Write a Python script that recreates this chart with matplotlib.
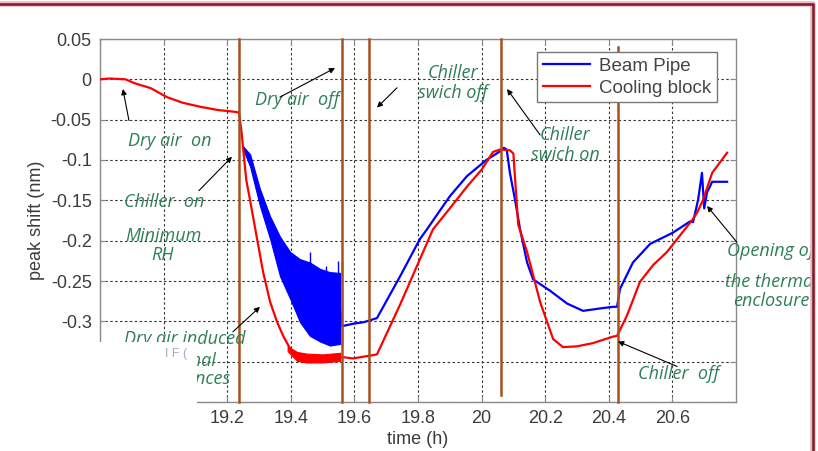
import numpy as np
import matplotlib.pyplot as plt
from matplotlib.lines import Line2D
from matplotlib.patches import Rectangle

plt.rcParams['font.family'] = ['Liberation Sans', 'DejaVu Sans']

#--- data (time in h, peak shift in nm)
red_t = [18.80, 18.83, 18.88, 18.91, 18.96, 19.01, 19.06, 19.115, 19.17, 19.218,
         19.237, 19.245, 19.26, 19.272, 19.294, 19.313, 19.335, 19.357, 19.376, 19.398,
         19.429, 19.49, 19.555, 19.596, 19.671, 19.744, 19.806, 19.847, 19.90, 19.954,
         20.00, 20.036, 20.058, 20.089, 20.10, 20.115, 20.143, 20.184, 20.225, 20.256,
         20.30, 20.35, 20.413, 20.426, 20.457, 20.498, 20.54, 20.583, 20.615, 20.665,
         20.678, 20.697, 20.725, 20.772]
red_v = [0.0, 0.001, 0.0, -0.005, -0.011, -0.022, -0.029, -0.034, -0.038, -0.040,
         -0.041, -0.065, -0.125, -0.150, -0.198, -0.239, -0.276, -0.301, -0.318, -0.334,
         -0.343, -0.346, -0.344, -0.346, -0.341, -0.279, -0.223, -0.186, -0.160, -0.133,
         -0.112, -0.090, -0.087, -0.088, -0.092, -0.180, -0.214, -0.276, -0.322, -0.332,
         -0.331, -0.327, -0.319, -0.318, -0.293, -0.251, -0.230, -0.214, -0.198, -0.173,
         -0.165, -0.149, -0.116, -0.091]

# noisy bottom of the cooling block curve
red_band_t = [19.39, 19.42, 19.45, 19.50, 19.555]
red_band_lo = [-0.337, -0.349, -0.351, -0.351, -0.349]
red_band_hi = [-0.331, -0.338, -0.340, -0.341, -0.339]

blue_t = [19.25, 19.272, 19.303, 19.335, 19.366, 19.398, 19.429, 19.46, 19.492, 19.523,
          19.555, 19.561, 19.596, 19.63, 19.671, 19.744, 19.806, 19.828, 19.90, 19.954,
          20.015, 20.055, 20.07, 20.079, 20.089, 20.105, 20.121, 20.143, 20.162, 20.215,
          20.269, 20.319, 20.373, 20.413, 20.426, 20.435, 20.476, 20.53, 20.602, 20.656,
          20.665, 20.681, 20.693, 20.70, 20.709, 20.718, 20.725, 20.772]
blue_v = [-0.085, -0.100, -0.146, -0.184, -0.220, -0.243, -0.262, -0.272, -0.280, -0.284,
          -0.284, -0.306, -0.303, -0.301, -0.296, -0.244, -0.198, -0.186, -0.145, -0.120,
          -0.100, -0.090, -0.085, -0.087, -0.116, -0.149, -0.186, -0.227, -0.248, -0.262,
          -0.278, -0.287, -0.284, -0.282, -0.282, -0.260, -0.227, -0.204, -0.190, -0.176,
          -0.177, -0.149, -0.116, -0.160, -0.140, -0.133, -0.127, -0.127]

# envelope of the noisy beam pipe signal
blue_band_t = [19.25, 19.272, 19.303, 19.335, 19.366, 19.398, 19.429, 19.46, 19.492, 19.523, 19.555]
blue_band_hi = [-0.083, -0.093, -0.136, -0.170, -0.195, -0.214, -0.223, -0.227, -0.235, -0.239, -0.240]
blue_band_lo = [-0.087, -0.108, -0.157, -0.198, -0.244, -0.272, -0.301, -0.318, -0.325, -0.330, -0.328]
spike_t = [19.39, 19.46, 19.51, 19.549, 19.561]
spike_top = [-0.213, -0.214, -0.232, -0.225, -0.225]
spike_bot = [-0.260, -0.300, -0.310, -0.320, -0.330]

event_t = [19.238, 19.562, 19.647, 20.06, 20.428]

xtick_vals = [18.8, 19.0, 19.2, 19.4, 19.6, 19.8, 20.0, 20.2, 20.4, 20.6]
xtick_lbls = ['18.8', '19', '19.2', '19.4', '19.6', '19.8', '20', '20.2', '20.4', '20.6']
ytick_vals = [0.05, 0.0, -0.05, -0.1, -0.15, -0.2, -0.25, -0.3, -0.35, -0.4]
ytick_lbls = ['0.05', '0', '-0.05', '-0.1', '-0.15', '-0.2', '-0.25', '-0.3', '-0.35', '-0.4']

# (text, x, y) annotations, arrows as (tail x, tail y, head x, head y)
notes = [('Dry air  on', 19.02, -0.077), ('Chiller  on', 19.001, -0.1525),
         ('Minimum', 18.998, -0.1945), ('RH', 18.998, -0.218),
         ('Dry air  off', 19.42, -0.0253), ('Chiller', 19.91, 0.008), ('swich off', 19.91, -0.0167),
         ('Chiller', 20.262, -0.0686), ('swich on', 20.262, -0.0933),
         ('Chiller  off', 20.621, -0.365), ('Opening of', 20.91, -0.213),
         ('the thermal', 20.91, -0.251), ('enclosure', 20.91, -0.275),
         ('Dry air induced', 19.067, -0.322), ('thermal', 19.067, -0.349),
         ('fluctuances', 19.067, -0.372)]
arrows = [(18.891, -0.051, 18.872, -0.012), (19.111, -0.138, 19.215, -0.096),
          (19.366, -0.022, 19.539, 0.014), (19.734, -0.0105, 19.671, -0.035),
          (20.184, -0.069, 20.08, -0.012), (20.803, -0.202, 20.709, -0.157),
          (20.615, -0.356, 20.429, -0.325), (19.218, -0.313, 19.303, -0.282)]

W, H = 818, 451
fig = plt.figure(figsize=(W / 100, H / 100), dpi=100)
ax = fig.add_axes([100 / W, 49 / H, 636 / W, 363 / H])

gray = '#3c3c3c'
green = '#2f7f55'

ax.fill_between(blue_band_t, blue_band_lo, blue_band_hi, color='#0000ff', lw=0.8, zorder=3)
ax.vlines(spike_t, spike_bot, spike_top, color='#0000ff', lw=1.0, zorder=3)
ax.plot(blue_t, blue_v, color='#0000ff', lw=1.6, label='Beam Pipe', zorder=3)
ax.fill_between(red_band_t, red_band_lo, red_band_hi, color='#ff0000', lw=0.8, zorder=4)
ax.plot(red_t, red_v, color='#ff0000', lw=1.6, label='Cooling block', zorder=4)

ev_span = [(0, 1), (0, 1), (0, 1), (0.019, 1), (0, 0.978)]
for t, (lo, hi) in zip(event_t, ev_span):
    ax.axvline(t, ymin=lo, ymax=hi, color='#a9501f', lw=1.8, zorder=5, clip_on=False)

ax.set_xlim(18.8, 20.8)
ax.set_ylim(-0.4, 0.05)
ax.set_xticks(xtick_vals)
ax.set_xticklabels(xtick_lbls)
ax.set_yticks(ytick_vals)
ax.set_yticklabels(ytick_lbls)
ax.grid(True, color='#333333', lw=0.8, linestyle=(0, (2.2, 2.2)))
ax.tick_params(direction='in', length=4, color='#888888', labelcolor=gray, labelsize=13,
               top=True, right=True, pad=6)
for s in ax.spines.values():
    s.set_color('#8a8a8a')
    s.set_linewidth(1.0)
ax.set_xlabel('time (h)', fontsize=13, color=gray, labelpad=3)
ax.set_ylabel('peak shift (nm)', fontsize=13, color=gray, labelpad=4)

leg = ax.legend(loc='upper right', bbox_to_anchor=(0.970, 0.964), borderaxespad=0,
                fancybox=False, edgecolor='#777777', fontsize=13.5, handlelength=2.5,
                borderpad=0.3, labelspacing=0.25, handletextpad=0.5, framealpha=1)
for txt in leg.get_texts():
    txt.set_color('#444444')
leg.set_zorder(6)

for s, x, y in notes:
    ax.text(x, y, s, ha='center', va='center', color=green, fontsize=13, style='italic',
            family=['Open Sans', 'DejaVu Sans'], zorder=7, clip_on=False)
for x0, y0, x1, y1 in arrows:
    ax.annotate('', xy=(x1, y1), xytext=(x0, y0), annotation_clip=False, zorder=7,
                arrowprops=dict(arrowstyle='-|>', color='black', lw=0.8,
                                mutation_scale=8, shrinkA=0, shrinkB=0))

# pasted-over white box and the slide frame
fig.patches.append(Rectangle((0, 0), 197 / W, 109 / H, transform=fig.transFigure,
                             facecolor='white', edgecolor='none', zorder=10))
fig.patches.append(Rectangle((814 / W, 0), 4 / W, 1, transform=fig.transFigure,
                             facecolor='white', edgecolor='none', zorder=10))
fig.text(176 / W, 1 - 354 / H, 'I F (', color='#a8acc0', fontsize=9, ha='center',
         va='center', zorder=11)
for c, lw in [('#e9b8bd', 4.0), ('#7a1a2a', 1.8)]:
    fig.lines.append(Line2D([0, 813 / W, 813 / W], [1 - 4 / H, 1 - 4 / H, 0],
                            transform=fig.transFigure, color=c, lw=lw, zorder=12))

fig.savefig('out.png', dpi=100)
